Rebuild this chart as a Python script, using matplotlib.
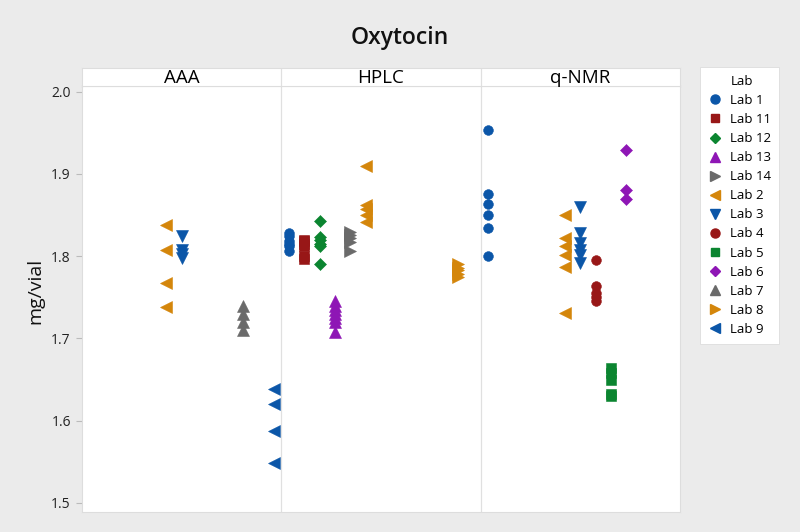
import matplotlib
matplotlib.use("Agg")
import matplotlib.pyplot as plt
from matplotlib.lines import Line2D

plt.rcParams['font.family'] = ['Open Sans', 'DejaVu Sans']

labs = ["Lab 1", "Lab 11", "Lab 12", "Lab 13", "Lab 14", "Lab 2", "Lab 3",
        "Lab 4", "Lab 5", "Lab 6", "Lab 7", "Lab 8", "Lab 9"]
methods = ["AAA", "HPLC", "q-NMR"]

# values (mg/vial) per method and lab
aaa = {
    "Lab 2": [1.838, 1.808, 1.768, 1.738],
    "Lab 3": [1.825, 1.807, 1.803, 1.798],
    "Lab 7": [1.740, 1.730, 1.720, 1.710],
    "Lab 9": [1.639, 1.620, 1.588, 1.548],
}
hplc = {
    "Lab 1": [1.828, 1.824, 1.818, 1.815, 1.812, 1.806],
    "Lab 11": [1.820, 1.818, 1.815, 1.812, 1.800, 1.797],
    "Lab 12": [1.843, 1.823, 1.820, 1.815, 1.812, 1.791],
    "Lab 13": [1.746, 1.740, 1.735, 1.730, 1.725, 1.720, 1.708],
    "Lab 14": [1.830, 1.826, 1.822, 1.817, 1.806],
    "Lab 2": [1.910, 1.862, 1.857, 1.850, 1.842],
    "Lab 8": [1.790, 1.786, 1.783, 1.779, 1.775],
}
qnmr = {
    "Lab 1": [1.953, 1.876, 1.864, 1.850, 1.834, 1.800],
    "Lab 2": [1.850, 1.822, 1.812, 1.802, 1.787, 1.731],
    "Lab 3": [1.860, 1.828, 1.816, 1.808, 1.802, 1.792],
    "Lab 4": [1.796, 1.764, 1.755, 1.750, 1.746],
    "Lab 5": [1.664, 1.658, 1.650, 1.632, 1.630],
    "Lab 6": [1.929, 1.880, 1.869],
}
data_by_method = [aaa, hplc, qnmr]

yticks = [1.5, 1.6, 1.7, 1.8, 1.9, 2.0]

blue = "#0B56A8"
red = "#981717"
green = "#0B8530"
purple = "#8E16B5"
gray = "#6A6A6A"
orange = "#D4860B"
style = {
    "Lab 1": ("o", blue), "Lab 11": ("s", red), "Lab 12": ("D", green),
    "Lab 13": ("^", purple), "Lab 14": (">", gray), "Lab 2": ("<", orange),
    "Lab 3": ("v", blue), "Lab 4": ("o", red), "Lab 5": ("s", green),
    "Lab 6": ("D", purple), "Lab 7": ("^", gray), "Lab 8": (">", orange),
    "Lab 9": ("<", blue),
}
msize = {"o": 7, "s": 6.5, "D": 6, "^": 8, "v": 8, "<": 8, ">": 8}

bg = "#EBEBEB"
fig = plt.figure(figsize=(8.0, 5.32), dpi=100, facecolor=bg)

W, H = 800, 532
L, R, T_head, T_data, B = 82, 680, 68, 86, 512
ax = fig.add_axes([L / W, 1 - B / H, (R - L) / W, (B - T_data) / H])
hax = fig.add_axes([L / W, 1 - T_data / H, (R - L) / W, (T_data - T_head) / H])

nl = len(labs)
for m, d in enumerate(data_by_method):
    for lab, vals in d.items():
        i = labs.index(lab)
        mk, col = style[lab]
        ax.plot([m * nl + i + 0.5] * len(vals), vals, linestyle="none",
                marker=mk, color=col, markersize=msize[mk],
                markeredgewidth=0.4, markeredgecolor=col)

ax.set_xlim(0, 3 * nl)
ax.set_ylim(1.489, 2.007)
ax.set_xticks([])
ax.set_yticks(yticks)
ax.set_yticklabels([f"{t:.1f}" for t in yticks], fontsize=10, color="#222222")
ax.tick_params(axis="y", direction="out", length=4, color="#BBBBBB", pad=4)
for s in ax.spines.values():
    s.set_color("#DDDDDD")
    s.set_linewidth(0.8)
for xb in [nl, 2 * nl]:
    ax.axvline(xb, color="#E0E0E0", linewidth=0.9)
ax.set_ylabel("mg/vial", fontsize=14, color="#111111")
ax.yaxis.set_label_coords((44 - L) / (R - L), 0.52)

hax.set_xlim(0, 3 * nl)
hax.set_ylim(0, 1)
hax.set_xticks([])
hax.set_yticks([])
for s in hax.spines.values():
    s.set_color("#DDDDDD")
    s.set_linewidth(0.8)
for xb in [nl, 2 * nl]:
    hax.axvline(xb, color="#E0E0E0", linewidth=0.9)
for m, name in enumerate(methods):
    hax.text(m * nl + nl / 2, 0.45, name, ha="center", va="center",
             fontsize=13.5, color="#000000")

fig.text(0.5, 1 - 38 / H, "Oxytocin", ha="center", va="center",
         fontsize=16.5, fontweight="semibold", color="#111111")

handles = [Line2D([], [], linestyle="none", marker="", label="Lab")]
for lab in labs:
    mk, col = style[lab]
    handles.append(Line2D([], [], linestyle="none", marker=mk, color=col,
                          markersize=msize[mk] - 0.5, label=lab))
leg = fig.legend(handles=handles, loc="upper left",
                 bbox_to_anchor=(700 / W, 1 - 67 / H), fontsize=9.5,
                 frameon=True, fancybox=False, framealpha=1,
                 edgecolor="#DDDDDD", facecolor="white",
                 handlelength=1.0, handletextpad=0.7, labelspacing=0.46,
                 borderpad=0.6, borderaxespad=0)
leg.get_frame().set_linewidth(0.6)

fig.savefig("out.png", dpi=100, facecolor=bg)
